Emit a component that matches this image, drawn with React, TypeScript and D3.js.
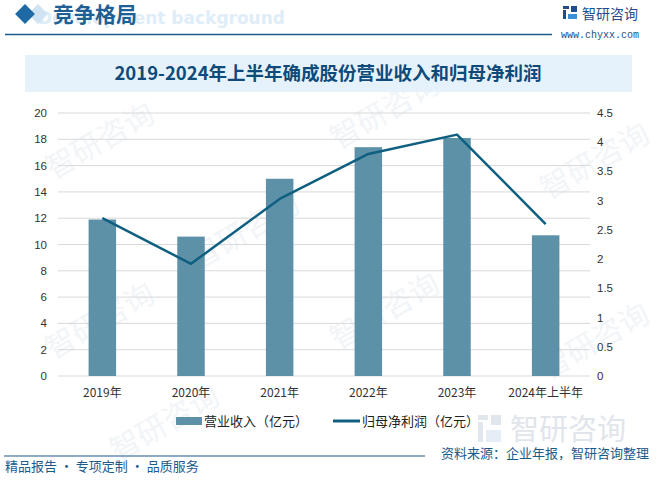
import React from "react";
import * as d3 from "d3";

const categories = ["2019年", "2020年", "2021年", "2022年", "2023年", "2024年上半年"];
const revenue = [11.9, 10.6, 15.0, 17.4, 18.1, 10.7];
const netProfit = [2.7, 1.92, 3.03, 3.8, 4.13, 2.6];
const leftTicks = [0, 2, 4, 6, 8, 10, 12, 14, 16, 18, 20];
const rightTicks = [0, 0.5, 1, 1.5, 2, 2.5, 3, 3.5, 4, 4.5];

const W = 659;
const H = 481;
const plot = { left: 58, right: 590, top: 113, bottom: 376 };
const BAR = "#5d91a8";
const LINE = "#0f5f80";
const DARK = "#1a5a8c";
const CJK = "'Noto Sans CJK SC', 'Noto Sans', sans-serif";
const NUM = "'Liberation Sans', 'DejaVu Sans', sans-serif";

export default function App() {
  const x = d3.scaleBand<string>().domain(categories).range([plot.left, plot.right]).paddingInner(0.69).paddingOuter(0.345);
  const yL = d3.scaleLinear().domain([0, 20]).range([plot.bottom, plot.top]);
  const yR = d3.scaleLinear().domain([0, 4.5]).range([plot.bottom, plot.top]);
  const cx = (c: string) => (x(c) as number) + x.bandwidth() / 2;
  const line = d3
    .line<number>()
    .x((_, i) => cx(categories[i]))
    .y((d) => yR(d));

  const watermarks = [
    [105, 150], [390, 120], [105, 330], [390, 320], [170, 432], [600, 170], [600, 350], [250, 240],
  ];

  return (
    <svg width={W} height={H} viewBox={`0 0 ${W} ${H}`} style={{ position: "absolute", left: 0, top: 0, background: "#fff" }}>
      <rect x={0} y={0} width={W} height={H} fill="#fff" />
      {watermarks.map(([wx, wy], i) => (
        <text key={i} x={wx} y={wy} transform={`rotate(-30 ${wx} ${wy})`} textAnchor="middle" fontFamily={CJK} fontSize={30} fill="#f2f5f8">
          智研咨询
        </text>
      ))}

      {/* header */}
      <text x={285} y={24} textAnchor="end" fontFamily="'DejaVu Sans', sans-serif" fontWeight="bold" fontSize={17} fill="#deedf8">
        Development background
      </text>
      <rect x={31} y={7} width={14} height={14} transform="rotate(45 38 14)" fill="#cfe3f3" />
      <rect x={18} y={7} width={14} height={14} transform="rotate(45 25 14)" fill="#1f6aa5" />
      <text x={53} y={22} fontFamily={CJK} fontWeight="bold" fontSize={21} fill="#1f5f94">
        竞争格局
      </text>
      <line x1={5} y1={34.5} x2={552} y2={34.5} stroke={DARK} strokeWidth={1.5} />
      <g>
        <rect x={563} y={6} width={6} height={3} fill="#1f4e8c" />
        <rect x={563} y={10} width={3} height={9} fill="#1f4e8c" />
        <rect x={571} y={6} width={6} height={6} fill="#1f4e8c" />
        <rect x={568} y={14} width={9} height={5} fill="#3a8fd6" />
      </g>
      <text x={582} y={19} fontFamily={CJK} fontSize={14} fill="#1f4e8c">智研咨询</text>
      <text x={600} y={38} textAnchor="middle" fontFamily="'Liberation Mono', monospace" fontSize={10} fill="#1f4e8c">
        www.chyxx.com
      </text>

      {/* title box */}
      <rect x={25} y={55} width={607} height={37} fill="#e6f2fb" />
      <text x={328} y={80} textAnchor="middle" fontFamily={CJK} fontWeight="bold" fontSize={18.5} fill="#0e4a7a">
        2019-2024年上半年确成股份营业收入和归母净利润
      </text>

      {/* grid */}
      {leftTicks.map((t) => (
        <line key={t} x1={plot.left} x2={plot.right} y1={yL(t)} y2={yL(t)} stroke="#d9d9d9" strokeWidth={1} />
      ))}
      {leftTicks.map((t) => (
        <text key={t} x={47} y={yL(t) + 4} textAnchor="end" fontFamily={NUM} fontSize={11.5} fill="#333">
          {t}
        </text>
      ))}
      {rightTicks.map((t) => (
        <text key={t} x={597} y={yR(t) + 4} textAnchor="start" fontFamily={NUM} fontSize={11.5} fill="#333">
          {t}
        </text>
      ))}

      {revenue.map((v, i) => (
        <rect key={i} x={x(categories[i])} y={yL(v)} width={x.bandwidth()} height={plot.bottom - yL(v)} fill={BAR} />
      ))}

      <path d={line(netProfit) || ""} fill="none" stroke={LINE} strokeWidth={2.5} strokeLinejoin="round" />

      {categories.map((c) => (
        <text key={c} x={cx(c)} y={397} textAnchor="middle" fontFamily={CJK} fontSize={12} fill="#333">
          {c}
        </text>
      ))}

      <g opacity={0.9}>
        <rect x={478} y={415} width={10} height={5} fill="#dfe5ec" />
        <rect x={478} y={422} width={5} height={20} fill="#dfe5ec" />
        <rect x={491} y={415} width={10} height={10} fill="#dfe5ec" />
        <rect x={486} y={430} width={15} height={12} fill="#e3ecf6" />
        <text x={510} y={440} fontFamily={CJK} fontSize={29} fill="#dde3ea">智研咨询</text>
      </g>

      <rect x={176} y={417} width={26} height={8} fill={BAR} />
      <text x={204} y={425.5} fontFamily={CJK} fontSize={13} fill="#222">营业收入（亿元）</text>
      <line x1={333} x2={360} y1={421} y2={421} stroke={LINE} strokeWidth={3} />
      <text x={362} y={425.5} fontFamily={CJK} fontSize={13} fill="#222">归母净利润（亿元）</text>

      <line x1={4} y1={456} x2={425} y2={456} stroke={DARK} strokeWidth={1.2} />
      <text x={5} y={471} fontFamily={CJK} fontSize={13} fill={DARK}>精品报告 · 专项定制 · 品质服务</text>
      <text x={649} y={458} textAnchor="end" fontFamily={CJK} fontSize={13} fill={DARK}>资料来源：企业年报，智研咨询整理</text>
    </svg>
  );
}
